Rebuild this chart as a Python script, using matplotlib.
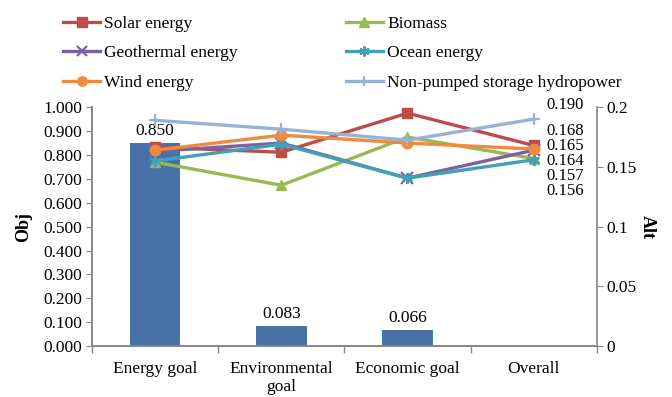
"""Goal weights (bars) and alternative scores (lines) by goal."""
import matplotlib.pyplot as plt
import numpy as np
from matplotlib.ticker import FuncFormatter, MultipleLocator

plt.rcParams["font.family"] = ["Liberation Serif", "DejaVu Serif"]

goals = ["Energy goal", "Environmental\ngoal", "Economic goal", "Overall"]

# goal weights (left axis), no bar for "Overall"
obj_weights = [0.850, 0.083, 0.066, np.nan]

# alternative scores per goal (right axis)
solar = [0.1665, 0.1623, 0.195, 0.168]
biomass = [0.154, 0.1347, 0.175, 0.157]
geothermal = [0.163, 0.170, 0.1406, 0.164]
ocean = [0.155, 0.169, 0.1406, 0.156]
wind = [0.164, 0.1766, 0.170, 0.165]
hydro = [0.189, 0.1816, 0.1724, 0.190]

series = [
    ("Solar energy", solar, "#BE4B48", "s"),
    ("Biomass", biomass, "#98B954", "^"),
    ("Geothermal energy", geothermal, "#7D60A0", "x"),
    ("Ocean energy", ocean, "#3FA0B8", (6, 2, 0)),
    ("Wind energy", wind, "#F08A3E", "o"),
    ("Non-pumped storage hydropower", hydro, "#95B3D7", "+"),
]

GREY = "#868686"

fig = plt.figure(figsize=(6.72, 3.97), dpi=100)
ax = fig.add_axes([0.137, 0.128, 0.751, 0.602])
ax2 = ax.twinx()

x = np.arange(len(goals))
ax.bar(x, obj_weights, width=0.4, color="#4672A8", zorder=2)
for xi, v in zip(x, obj_weights):
    if np.isnan(v):
        continue
    ax.annotate(f"{v:.3f}", (xi, v), xytext=(0, 3), textcoords="offset points",
                ha="center", va="bottom", fontsize=12.5)

handles = []
for label, vals, col, mk in series:
    filled = mk in ("s", "o", "^")
    h, = ax2.plot(x, vals, color=col, lw=2.4, marker=mk,
                  ms=7.5 if filled else 8, mec=col, mfc=col,
                  mew=1 if filled else 1.6, label=label, clip_on=False)
    handles.append(h)

# stacked value labels for the "Overall" column
overall = sorted((vals[-1] for _, vals, _, _ in series), reverse=True)
label_y = [0.2015, 0.180, 0.1675, 0.155, 0.1425, 0.130]
for v, ly in zip(overall, label_y):
    ax2.text(x[-1] + 0.1, ly, f"{v:.3f}", ha="left", va="center", fontsize=12)

ax.set_xlim(-0.5, 3.5)
ax.set_ylim(0, 1.0)
ax2.set_ylim(0, 0.2)

ax.yaxis.set_major_locator(MultipleLocator(0.1))
ax.yaxis.set_major_formatter(FuncFormatter(lambda v, _: f"{v:.3f}"))
ax2.yaxis.set_major_locator(MultipleLocator(0.05))
ax2.yaxis.set_major_formatter(FuncFormatter(lambda v, _: f"{v:g}"))

ax.set_xticks(x)
ax.set_xticklabels(goals, linespacing=1.1)
ax.set_xticks(np.arange(-0.5, 4.0, 1.0), minor=True)
ax.tick_params(axis="x", which="major", length=0, pad=11, labelsize=12.5)
ax.tick_params(axis="x", which="minor", length=5, color=GREY, width=1)
ax.tick_params(axis="y", length=4, color=GREY, labelsize=12.5, pad=3)
ax2.tick_params(axis="y", length=4, color=GREY, labelsize=12.5, pad=3)

for a in (ax, ax2):
    a.spines["top"].set_visible(False)
    for s in ("left", "right", "bottom"):
        a.spines[s].set_color(GREY)
        a.spines[s].set_linewidth(1.2)
ax.spines["right"].set_visible(False)

ax.set_ylabel("Obj", fontweight="bold", fontsize=13, labelpad=8)
ax2.set_ylabel("Alt", fontweight="bold", fontsize=13, rotation=270, labelpad=14)

order = [0, 2, 4, 1, 3, 5]
fig.legend([handles[i] for i in order], [series[i][0] for i in order],
           loc="upper left", bbox_to_anchor=(0.0707, 1.0), ncol=2, frameon=False,
           fontsize=12.5, handlelength=2.15, handletextpad=0.23,
           columnspacing=6.2, labelspacing=0.78, markerscale=0.9)

fig.savefig("out.png", dpi=100)
